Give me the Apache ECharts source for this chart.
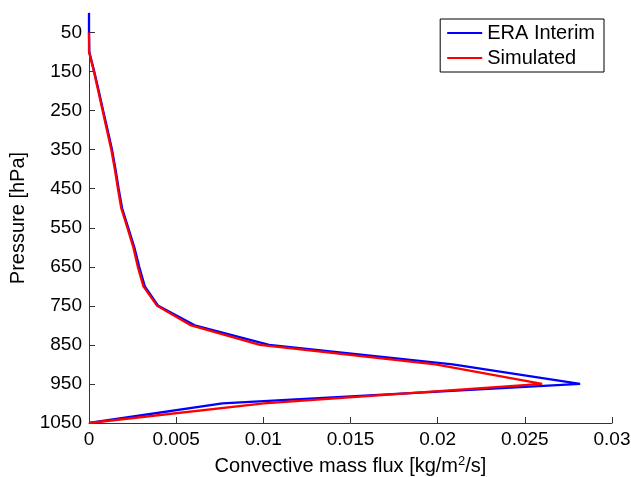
<!DOCTYPE html>
<html>
<head>
<meta charset="utf-8">
<script src="https://cdn.jsdelivr.net/npm/echarts@6/dist/echarts.min.js"></script>
<style>html,body{margin:0;padding:0;background:#fff}#c{width:631px;height:477px}</style>
</head>
<body>
<div id="c"></div>
<script>
// Pressure levels (hPa)
const eraLevels = [0, 50, 100, 150, 200, 250, 300, 350, 400, 450, 500, 550, 600, 650, 700, 750, 800, 850, 900, 950, 1000, 1050];
const eraFlux   = [0, 0, 0.00002, 0.0003, 0.00056, 0.00081, 0.00107, 0.00132, 0.00152, 0.0017, 0.0019, 0.00225, 0.0026, 0.00288, 0.0032, 0.00397, 0.00606, 0.01033, 0.02086, 0.02817, 0.00765, 0];
const simLevels = [50, 100, 150, 200, 250, 300, 350, 400, 450, 500, 550, 600, 650, 700, 750, 800, 850, 900, 950, 1000, 1050];
const simFlux   = [0, 0, 0.00028, 0.00053, 0.00078, 0.00103, 0.00128, 0.00148, 0.00166, 0.00185, 0.0022, 0.00254, 0.0028, 0.00312, 0.00391, 0.00586, 0.0098, 0.01987, 0.02599, 0.01003, 0];
const yTicks = [50, 150, 250, 350, 450, 550, 650, 750, 850, 950, 1050];
const seriesNames = ['ERA Interim', 'Simulated'];

const font = 'Liberation Sans, Arial, Helvetica, sans-serif';
const fs = 19;
const fsT = 20;
const axisCol = '#333';

const chart = echarts.init(document.getElementById('c'), null, {renderer: 'canvas'});
chart.setOption({
  animation: false,
  backgroundColor: '#fff',
  grid: {left: 89, right: 19, top: 13, bottom: 54, containLabel: false, outerBoundsMode: 'none'},
  legend: {
    orient: 'vertical',
    right: 27, top: 19,
    backgroundColor: '#fff',
    borderColor: '#000', borderWidth: 1, borderRadius: 0,
    padding: [4, 9, 4, 7],
    itemGap: 5,
    icon: 'rect',
    itemWidth: 35, itemHeight: 2,
    textStyle: {fontFamily: font, fontSize: fsT, color: '#000'},
    data: seriesNames
  },
  xAxis: {
    type: 'value', min: 0, max: 0.03, interval: 0.005,
    name: 'Convective mass flux [kg/m{sup|2}/s]',
    nameLocation: 'middle', nameGap: 32,
    nameTextStyle: {fontFamily: font, fontSize: fsT, color: '#000',
      rich: {sup: {fontFamily: font, fontSize: 13, color: '#000', verticalAlign: 'bottom', padding: [0, 0, 9, 0]}}},
    axisLine: {show: true, onZero: false, lineStyle: {color: axisCol, width: 1}},
    axisTick: {show: true, inside: true, length: 6, lineStyle: {color: axisCol}},
    axisLabel: {fontFamily: font, fontSize: fs, color: '#000', margin: 7,
      formatter: v => String(+v.toFixed(3))},
    splitLine: {show: false}
  },
  yAxis: {
    type: 'value', min: 0, max: 1050, inverse: true,
    name: 'Pressure [hPa]',
    nameLocation: 'middle', nameGap: 50, nameRotate: 90,
    nameTextStyle: {fontFamily: font, fontSize: fsT, color: '#000'},
    axisLine: {show: true, onZero: false, lineStyle: {color: axisCol, width: 1}},
    axisTick: {show: true, inside: true, length: 6, customValues: yTicks, lineStyle: {color: axisCol}},
    axisLabel: {fontFamily: font, fontSize: fs, color: '#000', margin: 7, customValues: yTicks,
      formatter: v => String(v)},
    splitLine: {show: false}
  },
  series: [
    {
      name: seriesNames[0], type: 'line', symbol: 'none', showSymbol: false,
      lineStyle: {color: '#0000ff', width: 2.3}, itemStyle: {color: '#0000ff'},
      data: eraLevels.map((p, i) => [eraFlux[i], p])
    },
    {
      name: seriesNames[1], type: 'line', symbol: 'none', showSymbol: false,
      lineStyle: {color: '#ff0000', width: 2.3}, itemStyle: {color: '#ff0000'},
      data: simLevels.map((p, i) => [simFlux[i], p])
    }
  ]
});
</script>
</body>
</html>
